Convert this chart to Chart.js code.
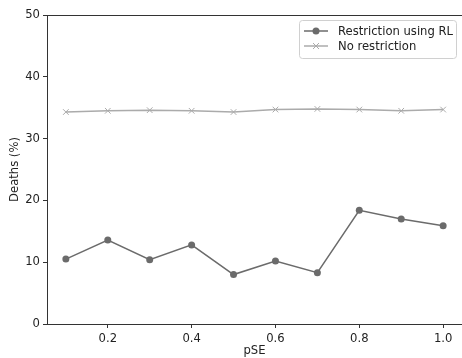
<!DOCTYPE html>
<html>
<head>
<meta charset="utf-8">
<script src="https://cdn.jsdelivr.net/npm/chart.js@4"></script>
<style>
  html, body { margin: 0; padding: 0; background: #fff; }
  #wrap { width: 462px; height: 358px; }
</style>
</head>
<body>
<div id="wrap"><canvas id="deathsChart" width="462" height="358"></canvas></div>
<script>
const pSE = [0.1, 0.2, 0.3, 0.4, 0.5, 0.6, 0.7, 0.8, 0.9, 1.0];
const restrictionRL = [10.5, 13.6, 10.4, 12.8, 8.0, 10.2, 8.3, 18.4, 17.0, 15.9];
const noRestriction = [34.3, 34.5, 34.6, 34.5, 34.3, 34.7, 34.8, 34.7, 34.5, 34.7];
const xTicks = [0.2, 0.4, 0.6, 0.8, 1.0];
const yTicks = [0, 10, 20, 30, 40, 50];

const FONT = "'DejaVu Sans', sans-serif";
const FONT_SIZE = 11.6;
const darkGrey = '#6b6b6b';
const lightGrey = '#ababab';

const toPoints = ys => pSE.map((x, i) => ({ x: x, y: ys[i] }));

// frame around the plot area plus an inset legend in the upper right
const framePlugin = {
    id: 'frame',
    afterDraw(chart) {
        const { ctx, chartArea: a } = chart;
        ctx.save();
        ctx.strokeStyle = '#333';
        ctx.lineWidth = 1;
        ctx.strokeRect(a.left + 0.5, a.top + 0.5, a.right - a.left, a.bottom - a.top);

        const bx = 299.5, by = 20.5, bw = 157, bh = 38;
        ctx.fillStyle = 'rgba(255,255,255,0.8)';
        ctx.strokeStyle = '#d0d0d0';
        ctx.beginPath();
        ctx.roundRect(bx, by, bw, bh, 3);
        ctx.fill();
        ctx.stroke();

        const entries = [
            { label: 'Restriction using RL', color: darkGrey, style: 'circle' },
            { label: 'No restriction', color: lightGrey, style: 'cross' }
        ];
        ctx.font = FONT_SIZE + 'px ' + FONT;
        ctx.textBaseline = 'middle';
        entries.forEach((e, i) => {
            const y = 31 + i * 15;
            ctx.strokeStyle = e.color;
            ctx.lineWidth = 1.5;
            ctx.beginPath();
            ctx.moveTo(304, y);
            ctx.lineTo(328, y);
            ctx.stroke();
            if (e.style === 'circle') {
                ctx.fillStyle = e.color;
                ctx.beginPath();
                ctx.arc(316, y, 3.5, 0, Math.PI * 2);
                ctx.fill();
            } else {
                ctx.lineWidth = 1;
                ctx.beginPath();
                ctx.moveTo(313, y - 3); ctx.lineTo(319, y + 3);
                ctx.moveTo(319, y - 3); ctx.lineTo(313, y + 3);
                ctx.stroke();
            }
            ctx.fillStyle = '#222';
            ctx.fillText(e.label, 338, y + 0.5);
        });
        ctx.restore();
    }
};

new Chart(document.getElementById('deathsChart'), {
    type: 'line',
    data: {
        datasets: [{
            label: 'Restriction using RL',
            data: toPoints(restrictionRL),
            borderColor: darkGrey,
            backgroundColor: darkGrey,
            borderWidth: 1.5,
            pointStyle: 'circle',
            pointRadius: 3.5,
            pointBorderWidth: 0
        }, {
            label: 'No restriction',
            data: toPoints(noRestriction),
            borderColor: lightGrey,
            backgroundColor: lightGrey,
            borderWidth: 1.5,
            pointStyle: 'crossRot',
            pointRadius: 4,
            pointBorderWidth: 1
        }]
    },
    options: {
        responsive: false,
        animation: false,
        layout: { autoPadding: false, padding: { top: 15, right: 0, left: 0, bottom: 0 } },
        plugins: {
            legend: { display: false },
            tooltip: { enabled: false }
        },
        scales: {
            x: {
                type: 'linear',
                min: 0.055,
                max: 1.045,
                afterBuildTicks: axis => { axis.ticks = xTicks.map(v => ({ value: v })); },
                afterFit: axis => {
                    axis.height = 34;
                    axis.paddingLeft = 0;
                    axis.paddingRight = 0;
                },
                ticks: {
                    color: '#222',
                    font: { family: FONT, size: FONT_SIZE },
                    padding: 4,
                    maxRotation: 0,
                    callback: v => v.toFixed(1)
                },
                grid: { drawOnChartArea: false, tickLength: 4, color: '#333' },
                border: { color: '#333' },
                title: {
                    display: true,
                    text: 'pSE',
                    color: '#222',
                    font: { family: FONT, size: FONT_SIZE },
                    padding: { top: 0, bottom: 0 }
                }
            },
            y: {
                min: 0,
                max: 50,
                afterBuildTicks: axis => { axis.ticks = yTicks.map(v => ({ value: v })); },
                afterFit: axis => { axis.width = 47; },
                ticks: {
                    color: '#222',
                    font: { family: FONT, size: FONT_SIZE },
                    padding: 3
                },
                grid: { drawOnChartArea: false, tickLength: 4, color: '#333' },
                border: { color: '#333' },
                title: {
                    display: true,
                    text: 'Deaths (%)',
                    color: '#222',
                    font: { family: FONT, size: FONT_SIZE },
                    padding: { top: 8, bottom: 0 }
                }
            }
        }
    },
    plugins: [framePlugin]
});
</script>
</body>
</html>
